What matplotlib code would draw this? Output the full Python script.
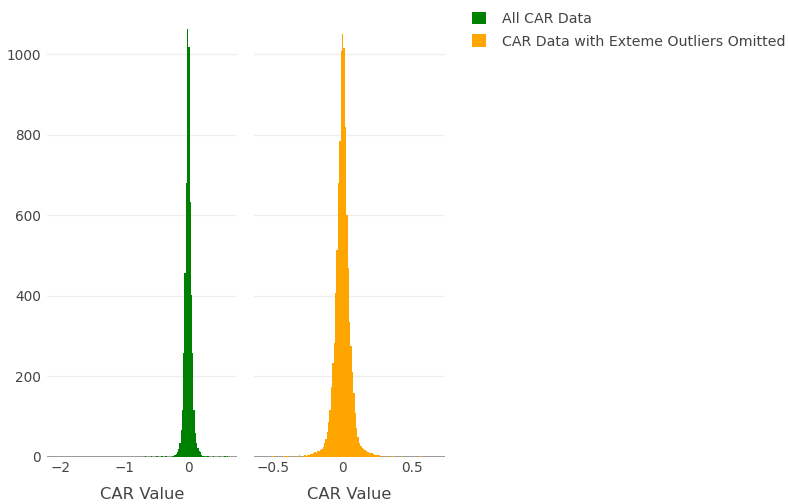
import numpy as np
import matplotlib
matplotlib.use("Agg")
import matplotlib.pyplot as plt
from matplotlib.patches import Patch

# ---------------- data (bin centres and counts) ----------------
green_centers = [-0.67, -0.57, -0.49, -0.41, -0.35,
                 -0.25, -0.23, -0.21, -0.19, -0.17, -0.15, -0.13, -0.11, -0.09, -0.07,
                 -0.05, -0.03, -0.01, 0.01, 0.03, 0.05, 0.07, 0.09, 0.11, 0.13,
                 0.15, 0.17, 0.19, 0.21, 0.23, 0.25,
                 0.29, 0.31, 0.39, 0.49, 0.57, 0.61]
green_counts = [2, 2, 3, 2, 3,
                2, 3, 5, 8, 12, 20, 35, 67, 117, 258,
                458, 680, 1062, 1017, 632, 402, 258, 117, 60, 35,
                22, 15, 12, 6, 3, 2,
                2, 3, 2, 2, 3, 2]

orange_centers = [-0.50, -0.42, -0.40, -0.36, -0.33, -0.31, -0.29, -0.27, -0.26, -0.25,
                  -0.24, -0.23, -0.22, -0.21, -0.20, -0.19, -0.18, -0.17, -0.16, -0.15,
                  -0.14, -0.13, -0.12, -0.11, -0.10, -0.09, -0.08, -0.07, -0.06, -0.05,
                  -0.04, -0.03, -0.02, -0.01, 0.00, 0.01, 0.02, 0.03, 0.04, 0.05,
                  0.06, 0.07, 0.08, 0.09, 0.10, 0.11, 0.12, 0.13, 0.14, 0.15,
                  0.16, 0.17, 0.18, 0.19, 0.20, 0.21, 0.22, 0.23, 0.24, 0.25,
                  0.26, 0.28, 0.30, 0.33, 0.36, 0.42, 0.56]
orange_counts = [3, 2, 3, 2, 3, 4, 3, 5, 3, 6,
                 5, 7, 8, 10, 12, 11, 14, 15, 17, 20,
                 26, 36, 45, 62, 86, 117, 175, 233, 283, 407,
                 514, 680, 785, 1009, 1050, 1016, 820, 600, 470, 335,
                 275, 210, 160, 110, 72, 50, 36, 28, 23, 20,
                 17, 15, 13, 11, 10, 9, 7, 6, 5, 5,
                 4, 3, 3, 2, 2, 2, 2]

series_names = ["All CAR Data", "CAR Data with Exteme Outliers Omitted"]
series_colors = ["#008000", "#FFA500"]
x_title = "CAR Value"
y_ticks = [0, 200, 400, 600, 800, 1000]
left_xticks = [-2, -1, 0]
right_xticks = [-0.5, 0, 0.5]

# ---------------- layout ----------------
W, H = 788, 504
fig = plt.figure(figsize=(W / 100, H / 100), dpi=100)
plt.rcParams['font.family'] = ['DejaVu Sans']


def rect(x0, x1, y0, y1):
    return [x0 / W, 1 - y1 / H, (x1 - x0) / W, (y1 - y0) / H]


ax1 = fig.add_axes(rect(46.7, 237.3, 10, 457))
ax2 = fig.add_axes(rect(254, 445, 10, 457), sharey=ax1)

text_col = "#444444"

green_edges = np.round(np.arange(-2.22, 0.7801, 0.02), 4)
orange_edges = np.round(np.arange(-0.645, 0.7451, 0.01), 4)

ax1.hist(green_centers, bins=green_edges, weights=green_counts,
         histtype="stepfilled", color=series_colors[0], linewidth=0, zorder=3)
ax2.hist(orange_centers, bins=orange_edges, weights=orange_counts,
         histtype="stepfilled", color=series_colors[1], linewidth=0, zorder=3)

ax1.set_xlim(-2.21, 0.764)
ax2.set_xlim(-0.636, 0.733)
ax1.set_ylim(0, 1110)

for ax, xt, labs in [(ax1, left_xticks, ["\u22122", "\u22121", "0"]),
                     (ax2, right_xticks, ["\u22120.5", "0", "0.5"])]:
    for s in ax.spines.values():
        s.set_visible(False)
    ax.set_yticks(y_ticks)
    ax.yaxis.grid(True, color="#eeeeee", linewidth=0.9, zorder=0)
    ax.set_axisbelow(True)
    ax.axhline(0, color="#9a9a9a", linewidth=1.4, zorder=2)
    ax.set_xticks(xt)
    ax.set_xticklabels(labs)
    ax.tick_params(axis="both", length=0, labelsize=9.8, labelcolor=text_col)
    ax.tick_params(axis="x", pad=3)
    ax.set_xlabel(x_title, fontsize=11.8, color=text_col, labelpad=8.5)
    ax.set_facecolor("white")

ax1.tick_params(axis="y", pad=4)
ax2.tick_params(axis="y", labelleft=False)

handles = [Patch(facecolor=c, edgecolor="none") for c in series_colors]
fig.legend(handles, series_names, loc="upper left",
           bbox_to_anchor=(466 / W, 1 - 6 / H), frameon=False,
           fontsize=10.2, labelcolor=text_col, handlelength=1.0, handleheight=1.0,
           handletextpad=1.12, labelspacing=0.6, borderaxespad=0)

fig.savefig("out.png", dpi=100, facecolor="white")
